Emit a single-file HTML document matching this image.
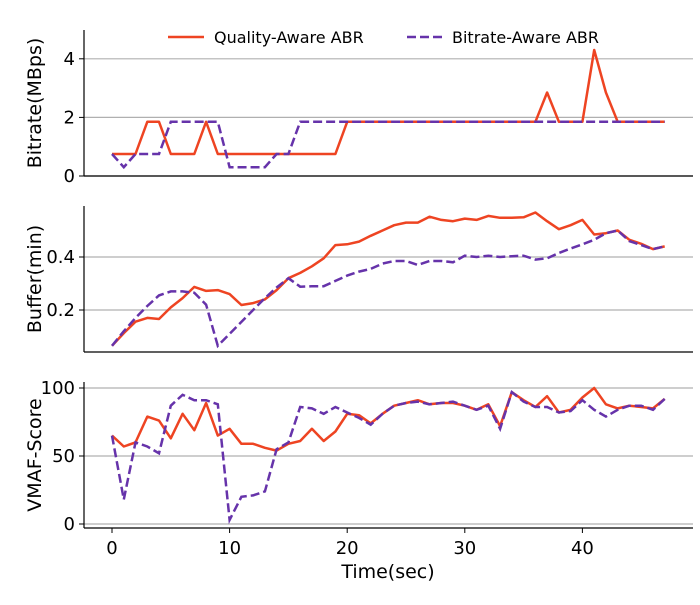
<!DOCTYPE html>
<html><head><meta charset="utf-8"><style>
body{margin:0;background:#fff;font-family:"Liberation Sans","DejaVu Sans",sans-serif}
svg text{font-family:"DejaVu Sans","Liberation Sans",sans-serif}
</style></head><body>
<svg id="chart" width="700" height="600" xmlns="http://www.w3.org/2000/svg"></svg>
<script>
const timeSec=[...Array(48).keys()];
const bitrateQuality=[0.75,0.75,0.75,1.85,1.85,0.75,0.75,0.75,1.85,0.75,0.75,0.75,0.75,0.75,0.75,0.75,0.75,0.75,0.75,0.75,1.85,1.85,1.85,1.85,1.85,1.85,1.85,1.85,1.85,1.85,1.85,1.85,1.85,1.85,1.85,1.85,1.85,2.85,1.85,1.85,1.85,4.3,2.85,1.85,1.85,1.85,1.85,1.85];
const bitrateBitrate=[0.75,0.3,0.75,0.75,0.75,1.85,1.85,1.85,1.85,1.85,0.3,0.3,0.3,0.3,0.75,0.75,1.85,1.85,1.85,1.85,1.85,1.85,1.85,1.85,1.85,1.85,1.85,1.85,1.85,1.85,1.85,1.85,1.85,1.85,1.85,1.85,1.85,1.85,1.85,1.85,1.85,1.85,1.85,1.85,1.85,1.85,1.85,1.85];
const bufferQuality=[0.065,0.113,0.156,0.17,0.166,0.21,0.245,0.287,0.272,0.275,0.26,0.219,0.226,0.24,0.275,0.32,0.34,0.365,0.395,0.445,0.448,0.458,0.48,0.5,0.52,0.53,0.53,0.552,0.54,0.535,0.545,0.54,0.555,0.548,0.548,0.55,0.568,0.535,0.505,0.52,0.54,0.485,0.49,0.5,0.465,0.45,0.43,0.44];
const bufferBitrate=[0.065,0.12,0.17,0.215,0.255,0.27,0.27,0.265,0.22,0.065,0.11,0.155,0.2,0.245,0.285,0.32,0.288,0.29,0.29,0.31,0.33,0.345,0.355,0.375,0.385,0.385,0.37,0.385,0.385,0.38,0.405,0.4,0.405,0.4,0.403,0.405,0.39,0.395,0.415,0.432,0.448,0.465,0.49,0.5,0.46,0.445,0.43,0.44];
const vmafQuality=[65,57,60,79,76,63,81,69,89,65,70,59,59,56,54,59,61,70,61,68,81,80,74,81,87,89,91,88,89,89,87,84,88,72,97,91,86,94,82,84,93,100,88,85,87,86,85,92];
const vmafBitrate=[65,18,60,57,52,87,95,91,91,88,3,20,21,24,55,60,86,85,81,86,82,78,73,81,87,89,90,88,89,90,87,84,87,70,97,90,86,86,82,83,91,84,79,84,87,87,84,92];
const xTicks=[0,10,20,30,40];
const bitrateTicks=[0,2,4];
const bufferTicks=[0.2,0.4];
const vmafTicks=[0,50,100];

const NS="http://www.w3.org/2000/svg";
const svg=document.getElementById('chart');
function el(tag,attrs,parent){const e=document.createElementNS(NS,tag);for(const k in attrs)e.setAttribute(k,attrs[k]);(parent||svg).appendChild(e);return e;}
const X0=84,X1=693;
const xScale=v=>112+v*11.76;
const panels=[
 {name:'bitrate',top:30,bottom:176,y:v=>176-v*29.3,ticks:bitrateTicks,fmt:v=>String(v),label:'Bitrate(MBps)',q:bitrateQuality,b:bitrateBitrate},
 {name:'buffer',top:206,bottom:352,y:v=>310-(v-0.2)*265,ticks:bufferTicks,fmt:v=>v.toFixed(1),label:'Buffer(min)',q:bufferQuality,b:bufferBitrate},
 {name:'vmaf',top:382,bottom:528,y:v=>524-v*1.36,ticks:vmafTicks,fmt:v=>String(v),label:'VMAF-Score',q:vmafQuality,b:vmafBitrate}
];
panels.forEach((p,pi)=>{
 const g=el('g',{});
 
 
 p.ticks.forEach(t=>{
  const yy=p.y(t);
  const gl=el('line',{x1:X0,x2:X1,y1:yy,y2:yy,stroke:'#b0b0b0','stroke-width':1.2},g);
  
  
  el('line',{x1:X0-5,x2:X0,y1:yy,y2:yy,stroke:'#000','stroke-width':1},g);
  const tl=el('text',{x:X0-9,y:yy+6,'text-anchor':'end','font-size':18},g);
  tl.textContent=p.fmt(t);
  
  
 });
 const yl=el('text',{x:0,y:0,'text-anchor':'middle','font-size':19,transform:`translate(41,${(p.top+p.bottom)/2}) rotate(-90)`},g);
 yl.textContent=p.label;
 
 
 const mk=arr=>arr.map((v,i)=>`${xScale(timeSec[i]).toFixed(1)},${p.y(v).toFixed(1)}`).join(' ');
 const lq=el('polyline',{points:mk(p.q),fill:'none',stroke:'#ee4422','stroke-width':2.5,'stroke-linejoin':'round'},g);
 
 
 const lb=el('polyline',{points:mk(p.b),fill:'none',stroke:'#6633aa','stroke-width':2.5,'stroke-dasharray':'9,4'},g);
 
 
 el('line',{x1:X0,x2:X0,y1:p.top,y2:p.bottom,stroke:'#000','stroke-width':1.2},g);
 el('line',{x1:X0,x2:X1,y1:p.bottom,y2:p.bottom,stroke:'#000','stroke-width':1.2},g);
 if(pi===2){
  xTicks.forEach(t=>{
   const xx=xScale(t);
   el('line',{x1:xx,x2:xx,y1:p.bottom,y2:p.bottom+5,stroke:'#000','stroke-width':1},g);
   const xl=el('text',{x:xx,y:p.bottom+26,'text-anchor':'middle','font-size':18},g);
   xl.textContent=t;
   
   
  });
  const xt=el('text',{x:388,y:578,'text-anchor':'middle','font-size':19},g);
  xt.textContent='Time(sec)';
  
  
 }
});
const lg=el('g',{});


el('line',{x1:168,x2:204,y1:37,y2:37,stroke:'#ee4422','stroke-width':2.5},lg);
const t1=el('text',{x:214,y:43,'font-size':16},lg);t1.textContent='Quality-Aware ABR';


el('line',{x1:407,x2:443,y1:37,y2:37,stroke:'#6633aa','stroke-width':2.5,'stroke-dasharray':'9,4'},lg);
const t2=el('text',{x:452,y:43,'font-size':16},lg);t2.textContent='Bitrate-Aware ABR';


</script>
</body></html>
